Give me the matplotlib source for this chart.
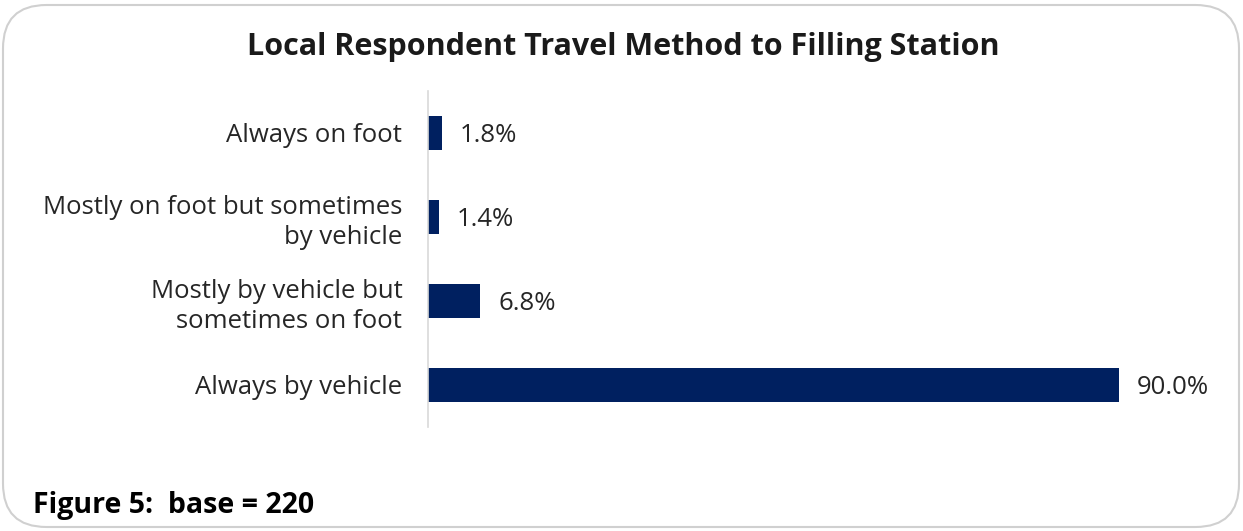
import matplotlib
matplotlib.use("Agg")
import matplotlib.pyplot as plt
from matplotlib.patches import FancyBboxPatch

# ── data ──────────────────────────────────────────────────────────────────────
CATEGORIES = [
    "Always on foot",
    "Mostly on foot but sometimes\nby vehicle",
    "Mostly by vehicle but\nsometimes on foot",
    "Always by vehicle",
]
SHARES = [1.8, 1.4, 6.8, 90.0]

TITLE = "Local Respondent Travel Method to Filling Station"
CAPTION = "Figure 5:  base = 220"

# ── style ─────────────────────────────────────────────────────────────────────
C_BAR = "#002060"
C_TXT = "#262626"
C_AXIS = "#D9D9D9"
C_FRAME = "#D0D0D0"
FONT = ["Open Sans", "DejaVu Sans"]

W, H, DPI = 1243, 531, 100
fig = plt.figure(figsize=(W / DPI, H / DPI), dpi=DPI, facecolor="white")

# rounded outer frame, kept behind the axes
frame = FancyBboxPatch((3 / W, 4 / H), (W - 7) / W, (H - 9) / H,
                       boxstyle="round,pad=0,rounding_size=0.035",
                       transform=fig.transFigure, facecolor="white",
                       edgecolor=C_FRAME, linewidth=1.5,
                       mutation_aspect=W / H, zorder=-5)
fig.patches.append(frame)

# plot area in pixel terms
x0, x1 = 428, 1119
y_top, y_bot = 91, 427
ax = fig.add_axes([x0 / W, 1 - y_bot / H, (x1 - x0) / W, (y_bot - y_top) / H])
ax.set_facecolor("none")
ax.set_zorder(2)

ypos = list(range(len(CATEGORIES)))
ax.barh(ypos, SHARES, height=0.4, color=C_BAR)
ax.set_xlim(0, 90)
ax.set_ylim(len(CATEGORIES) - 0.5, -0.5)

ax.set_yticks(ypos)
ax.set_yticklabels(CATEGORIES, fontsize=18.5, color=C_TXT, family=FONT,
                   linespacing=1.25)
ax.tick_params(axis="y", length=0, pad=18.5)
ax.set_xticks([])
for s in ("top", "right", "bottom"):
    ax.spines[s].set_visible(False)
ax.spines["left"].set_color(C_AXIS)
ax.spines["left"].set_linewidth(1.2)

for y, v in zip(ypos, SHARES):
    ax.annotate(f"{v:.1f}%", xy=(v, y), xytext=(18, -3),
                textcoords="offset pixels", ha="left", va="center",
                fontsize=18.5, color=C_TXT, family=FONT, annotation_clip=False)

fig.text(623 / W, 1 - 47 / H, TITLE, ha="center", va="center",
         fontsize=22, fontweight="bold", color="#1A1A1A", family=FONT)
fig.text(33 / W, 1 - 506 / H, CAPTION, ha="left", va="center",
         fontsize=20.5, fontweight="bold", color="#000000", family=FONT)

fig.savefig("out.png", dpi=DPI, facecolor="white")
